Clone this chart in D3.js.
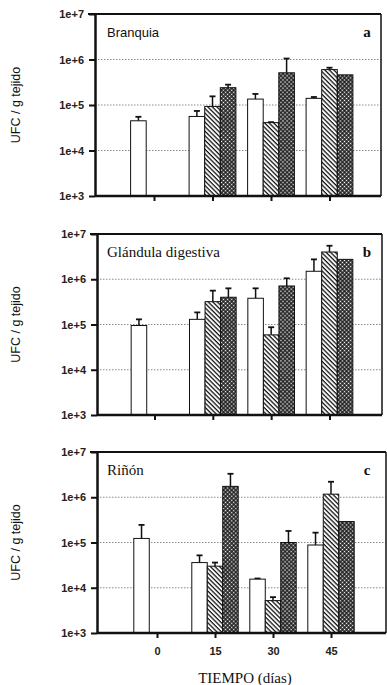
<!DOCTYPE html>
<html>
<head>
<meta charset="utf-8">
<script src="https://cdn.jsdelivr.net/npm/d3@7"></script>
<style>
    body { margin: 0; background: #fff; }
    svg { display: block; }
</style>
</head>
<body>
<div id="chart"></div>
<script>

// data (UFC / g tejido, log scale)
const dias = [0, 15, 30, 45];
const diaLabels = ["0", "15", "30", "45"];
const yTicks = [1e3, 1e4, 1e5, 1e6, 1e7];
const series = ["s1", "s2", "s3"];

// Branquia
const branquiaS1 = [4.5e4, 5.6e4, 1.35e5, 1.4e5];
const branquiaS1Err = [5.5e4, 7.4e4, 1.75e5, 1.5e5];
const branquiaS2 = [null, 9.3e4, 4.1e4, 6.0e5];
const branquiaS2Err = [null, 1.55e5, 4.2e4, 6.6e5];
const branquiaS3 = [null, 2.4e5, 5.1e5, 4.6e5];
const branquiaS3Err = [null, 2.8e5, 1.05e6, null];

// Glándula digestiva
const glandulaS1 = [9.5e4, 1.3e5, 3.8e5, 1.5e6];
const glandulaS1Err = [1.3e5, 1.85e5, 6.3e5, 2.75e6];
const glandulaS2 = [null, 3.2e5, 5.9e4, 4.0e6];
const glandulaS2Err = [null, 5.6e5, 8.7e4, 5.5e6];
const glandulaS3 = [null, 4.0e5, 7.1e5, 2.75e6];
const glandulaS3Err = [null, 6.3e5, 1.05e6, null];

// Riñón
const rinonS1 = [1.23e5, 3.6e4, 1.55e4, 8.8e4];
const rinonS1Err = [2.45e5, 5.2e4, 1.6e4, 1.65e5];
const rinonS2 = [null, 3.0e4, 5.2e3, 1.17e6];
const rinonS2Err = [null, 3.6e4, 6.2e3, 2.2e6];
const rinonS3 = [null, 1.74e6, 1.0e5, 2.9e5];
const rinonS3Err = [null, 3.3e6, 1.8e5, null];

const width = 387;
const height = 685;

const svg = d3.select("#chart")
    .append("svg")
    .attr("width", width)
    .attr("height", height);

/* patterns */
const defs = svg.append("defs");

const hatch = defs.append("pattern")
    .attr("id", "hatch")
    .attr("patternUnits", "userSpaceOnUse")
    .attr("width", 3.2)
    .attr("height", 3.2)
    .attr("patternTransform", "rotate(-45)");
hatch.append("rect").attr("width", 3.2).attr("height", 3.2).attr("fill", "#fff");
hatch.append("line")
    .attr("x1", 1).attr("x2", 1)
    .attr("y1", 0).attr("y2", 3.2)
    .attr("stroke", "#111")
    .attr("stroke-width", 1.3);

const cross = defs.append("pattern")
    .attr("id", "cross")
    .attr("patternUnits", "userSpaceOnUse")
    .attr("width", 2.9)
    .attr("height", 2.9)
    .attr("patternTransform", "rotate(45)");
cross.append("rect").attr("width", 2.9).attr("height", 2.9).attr("fill", "#151515");
cross.append("rect")
    .attr("x", 0.7).attr("y", 0.7)
    .attr("width", 1.5).attr("height", 1.5)
    .attr("fill", "#fff");

const fills = { s1: "#fff", s2: "url(#hatch)", s3: "url(#cross)" };

/* panels */
const panels = [
    {
        title: "Branquia", letter: "a", titleFont: "Liberation Sans, Arial, sans-serif", titleSize: 13,
        left: 95, right: 381, top: 14, bottom: 196, x0: 154, x45: 329.5,
        vals: [branquiaS1, branquiaS2, branquiaS3],
        errs: [branquiaS1Err, branquiaS2Err, branquiaS3Err],
        xLabels: false
    },
    {
        title: "Glándula digestiva", letter: "b", titleFont: "Liberation Serif, Times New Roman, serif", titleSize: 15,
        left: 97, right: 382, top: 234, bottom: 415, x0: 154.5, x45: 329.5,
        vals: [glandulaS1, glandulaS2, glandulaS3],
        errs: [glandulaS1Err, glandulaS2Err, glandulaS3Err],
        xLabels: false
    },
    {
        title: "Riñón", letter: "c", titleFont: "Liberation Serif, Times New Roman, serif", titleSize: 15,
        left: 97, right: 386, top: 452, bottom: 633, x0: 157, x45: 331,
        vals: [rinonS1, rinonS2, rinonS3],
        errs: [rinonS1Err, rinonS2Err, rinonS3Err],
        xLabels: true
    }
];

panels.forEach(drawPanel);

function drawPanel(p){

    const g = svg.append("g");

    const x = d3.scaleLinear()
        .domain([0, 45])
        .range([p.x0, p.x45]);

    const y = d3.scaleLog()
        .domain([1e3, 1e7])
        .range([p.bottom, p.top]);

    const barW = (x(45) - x(0)) / 45 * 4;

    // dotted grid
    g.selectAll(".grid")
        .data([1e4, 1e5, 1e6])
        .enter()
        .append("line")
        .attr("x1", p.left)
        .attr("x2", p.right)
        .attr("y1", d => y(d))
        .attr("y2", d => y(d))
        .attr("stroke", "#8a8a8a")
        .attr("stroke-width", 1)
        .attr("stroke-dasharray", "1.5,1.5");

    // bars
    let bars = [];
    series.forEach((s, si) => {
        dias.forEach((d, di) => {
            const v = p.vals[si][di];
            if(v == null) return;
            bars.push({ s, dia: d, v, err: p.errs[si][di], xc: x(d) + (si - 1) * barW });
        });
    });

    // error bars (only upward)
    const eb = g.selectAll(".err")
        .data(bars.filter(b => b.err != null))
        .enter()
        .append("g");

    eb.append("line")
        .attr("x1", d => d.xc)
        .attr("x2", d => d.xc)
        .attr("y1", d => y(d.v))
        .attr("y2", d => y(d.err))
        .attr("stroke", "#111")
        .attr("stroke-width", 1.5);

    eb.append("line")
        .attr("x1", d => d.xc - 3)
        .attr("x2", d => d.xc + 3)
        .attr("y1", d => y(d.err))
        .attr("y2", d => y(d.err))
        .attr("stroke", "#111")
        .attr("stroke-width", 1.8);

    g.selectAll(".bar")
        .data(bars)
        .enter()
        .append("rect")
        .attr("x", d => d.xc - barW / 2)
        .attr("width", barW)
        .attr("y", d => y(d.v))
        .attr("height", d => y(1e3) - y(d.v))
        .attr("fill", d => fills[d.s])
        .attr("stroke", "#111")
        .attr("stroke-width", 1);

    // frame (top + right)
    g.append("line")
        .attr("x1", p.left - 7).attr("x2", p.right)
        .attr("y1", p.top).attr("y2", p.top)
        .attr("stroke", "#111").attr("stroke-width", 2);

    g.append("line")
        .attr("x1", p.right).attr("x2", p.right)
        .attr("y1", p.top).attr("y2", p.bottom)
        .attr("stroke", "#111").attr("stroke-width", 1.5);

    // y axis
    const yAxis = g.append("g")
        .attr("transform", `translate(${p.left},0)`)
        .call(d3.axisLeft(y)
            .tickValues(yTicks)
            .tickFormat(d => "1e+" + Math.round(Math.log10(d)))
            .tickSize(6)
            .tickSizeOuter(0)
            .tickPadding(5));

    yAxis.select(".domain")
        .attr("stroke", "#111")
        .attr("stroke-width", 2.5);
    yAxis.selectAll(".tick line")
        .attr("stroke", "#111")
        .attr("stroke-width", 2);
    yAxis.selectAll(".tick text")
        .style("font-family", "Liberation Sans, Arial, sans-serif")
        .style("font-size", "11px")
        .style("font-weight", "bold")
        .attr("fill", "#222");

    // x axis
    const xAxis = g.append("g")
        .attr("transform", `translate(0,${p.bottom})`)
        .call(d3.axisBottom(x)
            .tickValues(dias)
            .tickFormat((d, i) => p.xLabels ? diaLabels[i] : "")
            .tickSize(5)
            .tickSizeOuter(0)
            .tickPadding(9));

    xAxis.select(".domain")
        .attr("d", `M${p.left},0H${p.right}`)
        .attr("stroke", "#111")
        .attr("stroke-width", 2.5);
    xAxis.selectAll(".tick line")
        .attr("stroke", "#111")
        .attr("stroke-width", 2);
    xAxis.selectAll(".tick text")
        .style("font-family", "Liberation Sans, Arial, sans-serif")
        .style("font-size", "11px")
        .style("font-weight", "bold")
        .attr("fill", "#222");

    // y title
    g.append("text")
        .attr("transform", `translate(20,${(p.top + p.bottom) / 2}) rotate(-90)`)
        .attr("text-anchor", "middle")
        .style("font-family", "Liberation Sans, Arial, sans-serif")
        .style("font-size", "12.5px")
        .attr("fill", "#111")
        .text("UFC / g tejido");

    // panel title and letter
    g.append("text")
        .attr("x", 107)
        .attr("y", p.top + 23)
        .style("font-family", p.titleFont)
        .style("font-size", p.titleSize + "px")
        .attr("fill", "#111")
        .text(p.title);

    g.append("text")
        .attr("x", 367)
        .attr("y", p.top + 23)
        .attr("text-anchor", "middle")
        .style("font-family", "Liberation Serif, Times New Roman, serif")
        .style("font-size", "15px")
        .style("font-weight", "bold")
        .attr("fill", "#111")
        .text(p.letter);
}

// x title
svg.append("text")
    .attr("x", 245)
    .attr("y", 683)
    .attr("text-anchor", "middle")
    .style("font-family", "Liberation Serif, Times New Roman, serif")
    .style("font-size", "15px")
    .attr("fill", "#111")
    .text("TIEMPO (días)");

</script>
</body>
</html>
